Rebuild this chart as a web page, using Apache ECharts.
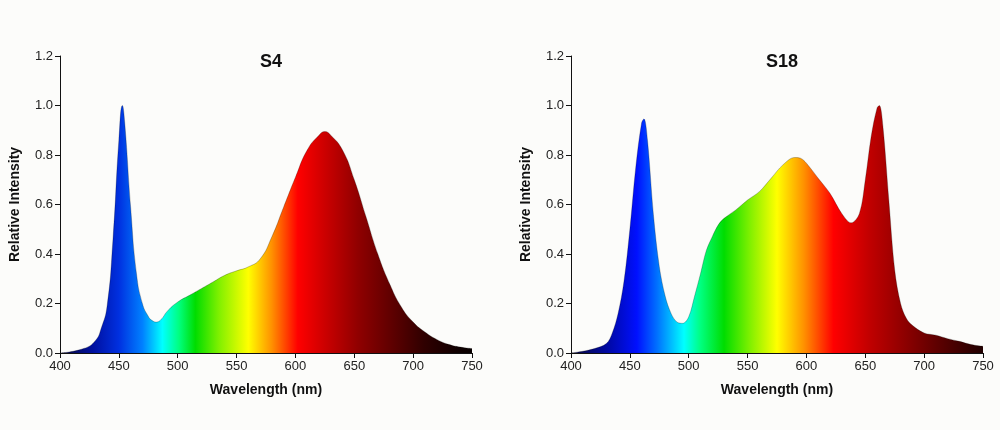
<!DOCTYPE html>
<html lang="en">
<head>
  <meta charset="UTF-8">
  <title>S4 / S18 spectra</title>
  <script src="https://cdn.jsdelivr.net/npm/echarts@6/dist/echarts.min.js"></script>
  <style>
    html, body { margin: 0; padding: 0; background: #fcfcfa; }
    #chart { width: 1000px; height: 430px; }
  </style>
</head>
<body>
  <div id="chart"></div>
  <script>
    // wavelength (nm) / relative intensity
    const s4Wave = [400, 420, 430, 435, 440, 445, 450, 453, 455, 460, 465, 470, 475, 478, 482, 486, 491, 500, 510, 520, 530, 540, 550, 560, 570, 580, 590, 600, 610, 620, 625, 630, 640, 650, 660, 670, 680, 690, 700, 710, 720, 730, 740, 750];
    const s4Vals = [0, 0.018, 0.05, 0.1, 0.19, 0.46, 0.86, 1.0, 0.93, 0.59, 0.32, 0.2, 0.148, 0.132, 0.125, 0.136, 0.168, 0.206, 0.233, 0.26, 0.287, 0.314, 0.332, 0.348, 0.38, 0.47, 0.59, 0.71, 0.82, 0.88, 0.895, 0.88, 0.82, 0.70, 0.55, 0.40, 0.28, 0.186, 0.125, 0.085, 0.055, 0.035, 0.024, 0.018];

    const s18Wave = [400, 410, 420, 430, 435, 440, 445, 450, 455, 460, 462, 465, 470, 475, 480, 485, 490, 495, 500, 505, 510, 515, 520, 525, 530, 540, 550, 560, 570, 580, 590, 595, 600, 610, 620, 630, 638, 645, 650, 655, 660, 662, 665, 670, 675, 680, 685, 690, 700, 710, 720, 730, 740, 750];
    const s18Vals = [0, 0.007, 0.018, 0.038, 0.08, 0.16, 0.29, 0.50, 0.75, 0.93, 0.946, 0.86, 0.56, 0.35, 0.23, 0.16, 0.125, 0.12, 0.146, 0.23, 0.32, 0.415, 0.47, 0.517, 0.544, 0.578, 0.618, 0.652, 0.706, 0.76, 0.79, 0.787, 0.767, 0.706, 0.645, 0.564, 0.526, 0.564, 0.70, 0.875, 0.99, 1.0, 0.915, 0.618, 0.335, 0.2, 0.139, 0.112, 0.081, 0.072, 0.058, 0.047, 0.034, 0.027];

    const titles = ['S4', 'S18'];

    // spectral colour stops: [wavelength, colour]
    const s4Stops = [[400, '#08083a'], [428, '#0010a0'], [450, '#0030e0'], [470, '#0080ff'], [487, '#00ffff'], [501, '#00ff80'], [515, '#00dd00'], [535, '#80f000'], [560, '#ffff00'], [580, '#ff9000'], [602, '#ff0000'], [625, '#cc0000'], [653, '#900000'], [681, '#600000'], [709, '#300000'], [737, '#100000'], [750, '#080000']];
    const s18Stops = [[400, '#08083a'], [430, '#0008a0'], [456, '#0010ff'], [473, '#0070ff'], [496, '#00ffff'], [510, '#00ff80'], [530, '#00dd00'], [552, '#80f000'], [575, '#ffff00'], [598, '#ff9000'], [623, '#ff0000'], [654, '#c00000'], [682, '#900000'], [710, '#600000'], [750, '#200000']];

    const font = '"Liberation Sans", Arial, sans-serif';

    function gradient(stops) {
      return new echarts.graphic.LinearGradient(0, 0, 1, 0,
        stops.map(s => ({ offset: (s[0] - 400) / 350, color: s[1] })));
    }

    function axes(i) {
      const x = {
        type: 'value', gridIndex: i, min: 400, max: 750, interval: 50,
        name: 'Wavelength (nm)', nameLocation: 'middle', nameGap: 30,
        nameTextStyle: { fontFamily: font, fontWeight: 'bold', fontSize: 14, color: '#111' },
        axisLine: { lineStyle: { color: '#111', width: 1 } },
        axisTick: { length: 5, lineStyle: { color: '#111' } },
        axisLabel: { fontFamily: font, fontSize: 13, color: '#222', margin: 7 },
        splitLine: { show: false }
      };
      const y = {
        type: 'value', gridIndex: i, min: 0, max: 1.2, interval: 0.2,
        name: 'Relative Intensity', nameLocation: 'middle', nameGap: 38,
        nameTextStyle: { fontFamily: font, fontWeight: 'bold', fontSize: 14, color: '#111' },
        axisLine: { show: true, lineStyle: { color: '#111', width: 1 } },
        axisTick: { show: true, length: 5, lineStyle: { color: '#111' } },
        axisLabel: { fontFamily: font, fontSize: 13, color: '#222', margin: 7, formatter: v => v.toFixed(1) },
        splitLine: { show: false }
      };
      return { x, y };
    }

    const a0 = axes(0), a1 = axes(1);

    const chart = echarts.init(document.getElementById('chart'));
    chart.setOption({
      backgroundColor: '#fcfcfa',
      animation: false,
      title: [
        { text: titles[0], left: 266, top: 48, textAlign: 'center',
          textStyle: { fontFamily: font, fontWeight: 'bold', fontSize: 18, color: '#111' } },
        { text: titles[1], left: 777, top: 48, textAlign: 'center',
          textStyle: { fontFamily: font, fontWeight: 'bold', fontSize: 18, color: '#111' } }
      ],
      grid: [
        { left: 60, right: 528, top: 56, bottom: 77 },
        { left: 571, right: 17, top: 56, bottom: 77 }
      ],
      xAxis: [a0.x, a1.x],
      yAxis: [a0.y, a1.y],
      series: [
        {
          type: 'line', xAxisIndex: 0, yAxisIndex: 0,
          data: s4Wave.map((w, i) => [w, s4Vals[i]]),
          smooth: 0.5, showSymbol: false,
          lineStyle: { width: 0.8, color: 'rgba(0,0,0,0.3)' },
          areaStyle: { color: gradient(s4Stops), opacity: 1 }
        },
        {
          type: 'line', xAxisIndex: 1, yAxisIndex: 1,
          data: s18Wave.map((w, i) => [w, s18Vals[i]]),
          smooth: 0.35, showSymbol: false,
          lineStyle: { width: 0.8, color: 'rgba(0,0,0,0.3)' },
          areaStyle: { color: gradient(s18Stops), opacity: 1 }
        }
      ]
    });
  </script>
</body>
</html>
